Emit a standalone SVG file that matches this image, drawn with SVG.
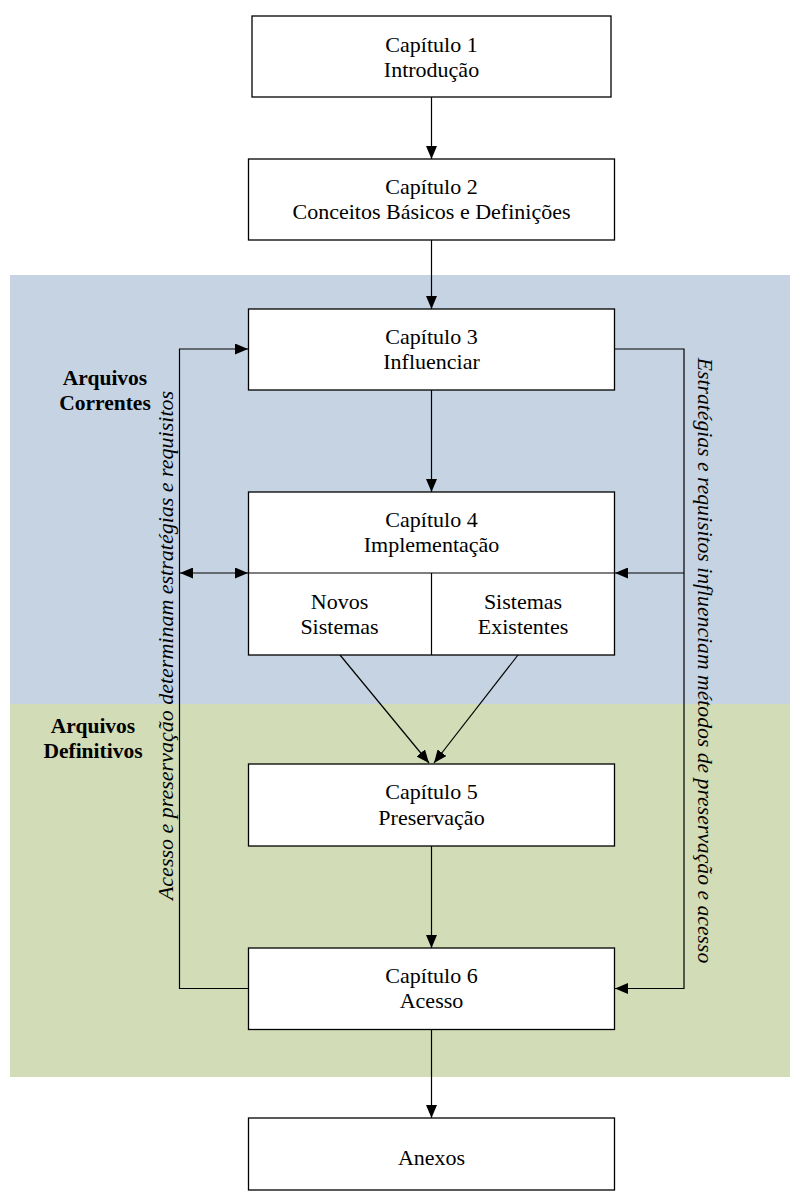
<svg xmlns="http://www.w3.org/2000/svg" width="790" height="1192" viewBox="0 0 790 1192">
<style>
.box{fill:#fff;stroke:#000;stroke-width:1.3}
.t{font-family:"Liberation Serif","Times New Roman",serif;font-size:22px;fill:#000;text-anchor:middle}
.lbl{font-family:"Liberation Serif","Times New Roman",serif;font-size:21.5px;font-weight:bold;fill:#000;text-anchor:middle}
.rot{font-family:"Liberation Serif","Times New Roman",serif;font-size:22px;font-style:italic;fill:#000;text-anchor:middle}
.c{fill:none;stroke:#000;stroke-width:1.2}
</style>
<defs>
<marker id="ah" viewBox="0 0 13 11" refX="13" refY="5.5" markerWidth="13" markerHeight="11" markerUnits="userSpaceOnUse" orient="auto-start-reverse">
<path d="M0,0 L13,5.5 L0,11 z" fill="#000"/>
</marker>
</defs>
<g id="background">
<rect x="10" y="275" width="780" height="429" fill="#c5d3e3"/>
<rect x="10" y="704" width="780" height="373" fill="#d2dcb6"/>
</g>
<g id="labels">
<text class="lbl" x="105" y="385">Arquivos</text>
<text class="lbl" x="105" y="410">Correntes</text>
<text class="lbl" x="93" y="733">Arquivos</text>
<text class="lbl" x="93" y="758">Definitivos</text>
<text class="rot" transform="translate(172.5,645.5) rotate(-90)">Acesso e preservação determinam estratégias e requisitos</text>
<text class="rot" style="font-size:21.7px" transform="translate(698,660.5) rotate(90)">Estratégias e requisitos influenciam métodos de preservação e acesso</text>
</g>
<g id="connectors">
<line class="c" x1="431.5" y1="97" x2="431.5" y2="159" marker-end="url(#ah)"/>
<line class="c" x1="431.5" y1="240" x2="431.5" y2="309" marker-end="url(#ah)"/>
<line class="c" x1="431.5" y1="390" x2="431.5" y2="492" marker-end="url(#ah)"/>
<line class="c" x1="431.5" y1="846" x2="431.5" y2="948" marker-end="url(#ah)"/>
<line class="c" x1="431.5" y1="1029.5" x2="431.5" y2="1118" marker-end="url(#ah)"/>
<path class="c" d="M248,988.5 H179.5 V349 H248" marker-end="url(#ah)"/>
<path class="c" d="M180,573 H248" marker-start="url(#ah)" marker-end="url(#ah)"/>
<path class="c" d="M615,349 H684 V988.5 H615" marker-end="url(#ah)"/>
<path class="c" d="M684,573 H615" marker-end="url(#ah)"/>
<path class="c" d="M340,655 L429,763" marker-end="url(#ah)"/>
<path class="c" d="M518,655 L434,763" marker-end="url(#ah)"/>
</g>
<g id="cap1">
<rect class="box" x="252" y="16" width="359" height="81"/>
<text class="t" x="431.5" y="51.5">Capítulo 1</text>
<text class="t" x="431.5" y="76.5">Introdução</text>
</g>
<g id="cap2">
<rect class="box" x="248.5" y="159" width="366" height="81"/>
<text class="t" x="431.5" y="193.5">Capítulo 2</text>
<text class="t" x="431.5" y="218.5">Conceitos Básicos e Definições</text>
</g>
<g id="cap3">
<rect class="box" x="248.5" y="309" width="366" height="81"/>
<text class="t" x="431.5" y="343.5">Capítulo 3</text>
<text class="t" x="431.5" y="368.5">Influenciar</text>
</g>
<g id="cap4">
<rect class="box" x="248.5" y="492" width="366" height="163"/>
<line class="c" x1="248.5" y1="573" x2="614.5" y2="573"/>
<line class="c" x1="431.5" y1="573" x2="431.5" y2="655"/>
<text class="t" x="431.5" y="526.5">Capítulo 4</text>
<text class="t" x="431.5" y="551.5">Implementação</text>
<text class="t" x="339.5" y="608.5">Novos</text>
<text class="t" x="339.5" y="633.5">Sistemas</text>
<text class="t" x="523" y="608.5">Sistemas</text>
<text class="t" x="523" y="633.5">Existentes</text>
</g>
<g id="cap5">
<rect class="box" x="248.5" y="764" width="366" height="82"/>
<text class="t" x="431.5" y="799">Capítulo 5</text>
<text class="t" x="431.5" y="824.5">Preservação</text>
</g>
<g id="cap6">
<rect class="box" x="248.5" y="948" width="366" height="81.5"/>
<text class="t" x="431.5" y="982.5">Capítulo 6</text>
<text class="t" x="431.5" y="1007.5">Acesso</text>
</g>
<g id="anexos">
<rect class="box" x="248.5" y="1118" width="366" height="72"/>
<text class="t" x="431.5" y="1165">Anexos</text>
</g>
</svg>
